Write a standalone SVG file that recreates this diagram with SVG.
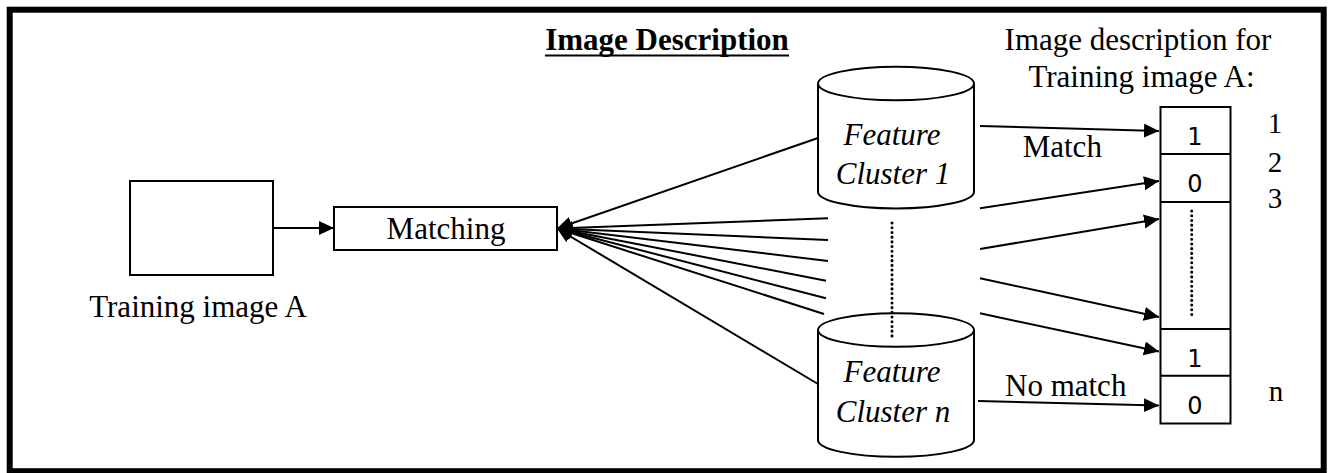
<svg xmlns="http://www.w3.org/2000/svg" width="1333" height="473" viewBox="0 0 1333 473">
<style>
.t{font-family:"Liberation Serif","Times New Roman",serif;font-size:31px;fill:#000}
.n{font-family:"Liberation Serif","Times New Roman",serif;font-size:29px;fill:#000;text-anchor:middle}
.it{font-style:italic;text-anchor:middle}
.b{fill:#fff;stroke:#000;stroke-width:2}
.c{fill:none;stroke:#000;stroke-width:2}
.d{font-family:"DejaVu Sans","Open Sans",sans-serif;font-size:24px;text-anchor:middle;fill:#000}
.dot{stroke:#000;stroke-width:3;stroke-dasharray:0.1 4.6;stroke-linecap:round;fill:none}
</style>
<defs>
<marker id="ah" markerUnits="userSpaceOnUse" markerWidth="16" markerHeight="15" refX="15" refY="7" orient="auto">
<path d="M0,0 L15,7 L0,14 z" fill="#000"/>
</marker>
</defs>
<rect x="9.7" y="9.7" width="1314" height="461.5" fill="#fff" stroke="#000" stroke-width="6"/>
<text class="t" x="667" y="50" text-anchor="middle" font-weight="bold">Image Description</text>
<line x1="545" y1="55.5" x2="789" y2="55.5" stroke="#000" stroke-width="2"/>
<g id="training">
<rect class="b" x="130" y="181" width="143" height="94"/>
<text class="t" x="198" y="316.7" text-anchor="middle">Training image A</text>
</g>
<g id="matching">
<rect class="b" x="334" y="207" width="223" height="43"/>
<text class="t" x="446" y="238.7" text-anchor="middle">Matching</text>
</g>
<g id="cluster1">
<path class="b" d="M818,83.5 L818,191.7 A78,16.8 0 0 0 974,191.7 L974,83.5 A78,16.8 0 0 0 818,83.5 Z"/>
<path class="c" d="M818,83.5 A78,16.8 0 0 0 974,83.5"/>
<text class="t it" x="892" y="145">Feature</text>
<text class="t it" x="893" y="184">Cluster 1</text>
</g>
<g id="clustern">
<path class="b" d="M818,330 L818,440 A78,16.8 0 0 0 974,440 L974,330 A78,16.8 0 0 0 818,330 Z"/>
<path class="c" d="M818,330 A78,16.8 0 0 0 974,330"/>
<text class="t it" x="892" y="381.7">Feature</text>
<text class="t it" x="893" y="421.7">Cluster n</text>
</g>
<line class="dot" x1="892" y1="223" x2="892" y2="337"/>
<g id="vector">
<rect class="b" x="1160.5" y="107" width="70" height="316.5"/>
<line class="c" x1="1160.5" y1="154" x2="1230.5" y2="154"/>
<line class="c" x1="1160.5" y1="202" x2="1230.5" y2="202"/>
<line class="c" x1="1160.5" y1="329" x2="1230.5" y2="329"/>
<line class="c" x1="1160.5" y1="375.7" x2="1230.5" y2="375.7"/>
<text class="d" x="1195" y="144.5">1</text>
<text class="d" x="1195" y="192">0</text>
<text class="d" x="1195" y="367">1</text>
<text class="d" x="1195" y="413.5">0</text>
<line class="dot" x1="1191.7" y1="211" x2="1191.7" y2="316"/>
</g>
<text class="t" x="1138" y="50" text-anchor="middle">Image description for</text>
<text class="t" x="1141.5" y="86.7" text-anchor="middle">Training image A:</text>
<g id="indices">
<text class="n" x="1275" y="133.3">1</text>
<text class="n" x="1275" y="171.5">2</text>
<text class="n" x="1275" y="208.3">3</text>
<text class="n" x="1276" y="401">n</text>
</g>
<text class="t" x="1022.7" y="156.7">Match</text>
<text class="t" x="1005" y="395.7">No match</text>
<g id="connectors" class="c" marker-end="url(#ah)">
<line x1="273" y1="228" x2="334" y2="228"/>
<line x1="818" y1="138" x2="557" y2="228.5"/>
<line x1="828" y1="218.3" x2="557" y2="228.5"/>
<line x1="828" y1="240" x2="557" y2="228.5"/>
<line x1="828" y1="261" x2="557" y2="228.5"/>
<line x1="826" y1="280.7" x2="557" y2="228.5"/>
<line x1="826" y1="298.3" x2="557" y2="228.5"/>
<line x1="824" y1="314" x2="557" y2="228.5"/>
<line x1="818" y1="384" x2="557" y2="228.5"/>
<line x1="980" y1="126" x2="1159" y2="131"/>
<line x1="980" y1="208.3" x2="1159" y2="181"/>
<line x1="980" y1="249" x2="1159" y2="219"/>
<line x1="980" y1="278.3" x2="1159" y2="317"/>
<line x1="980" y1="313.3" x2="1159" y2="351.5"/>
<line x1="978" y1="401" x2="1159" y2="405.5"/>
</g>
</svg>
